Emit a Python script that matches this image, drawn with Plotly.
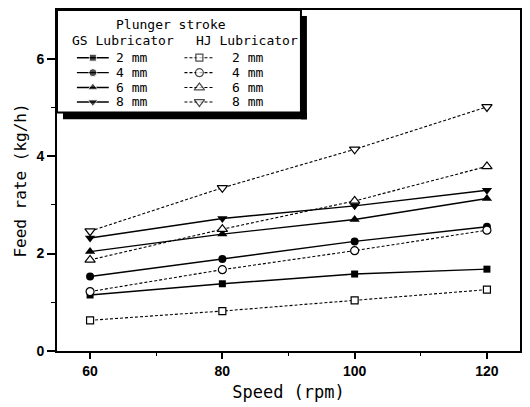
import plotly.graph_objects as go

# Feed rate (kg/h) vs. lubricator speed (rpm) for each plunger stroke
speed = [60, 80, 100, 120]
strokes = ["2 mm", "4 mm", "6 mm", "8 mm"]

gs_2mm = [1.15, 1.38, 1.58, 1.68]
gs_4mm = [1.53, 1.89, 2.25, 2.55]
gs_6mm = [2.04, 2.40, 2.70, 3.13]
gs_8mm = [2.32, 2.72, 2.98, 3.30]

hj_2mm = [0.63, 0.82, 1.04, 1.26]
hj_4mm = [1.22, 1.67, 2.06, 2.48]
hj_6mm = [1.87, 2.50, 3.08, 3.79]
hj_8mm = [2.46, 3.35, 4.14, 5.01]

gs_series = [gs_2mm, gs_4mm, gs_6mm, gs_8mm]
hj_series = [hj_2mm, hj_4mm, hj_6mm, hj_8mm]
symbols = ["square", "circle", "triangle-up", "triangle-down"]
sizes = [7, 8, 9, 9]

W, H = 530, 407
L, R, T, B = 57, 522, 10, 353
MONO = "DejaVu Sans Mono"
DOT = "3px,2px"


def px(x):
    return (x - L) / (R - L)


def py(y):
    return (B - y) / (B - T)


fig = go.Figure()

for vals, sym, sz in zip(gs_series, symbols, sizes):
    fig.add_trace(go.Scatter(
        x=speed, y=vals, mode="lines+markers", showlegend=False,
        line=dict(color="black", width=1.4),
        marker=dict(symbol=sym, size=sz, color="black"),
        cliponaxis=False))

for vals, sym, sz in zip(hj_series, symbols, sizes):
    fig.add_trace(go.Scatter(
        x=speed, y=vals, mode="lines+markers", showlegend=False,
        line=dict(color="black", width=1.1, dash=DOT),
        marker=dict(symbol=sym, size=sz, color="white",
                    line=dict(color="black", width=1.2)),
        cliponaxis=False))

# Hand-built legend block in the upper-left corner
shapes = []
box_l, box_t, box_r, box_b = 57, 10, 302, 113
shapes.append(dict(type="rect", xref="paper", yref="paper",
                   x0=px(box_r), x1=px(box_r + 6), y0=py(box_b + 7), y1=py(box_t + 6),
                   fillcolor="black", line=dict(width=0), layer="below"))
shapes.append(dict(type="rect", xref="paper", yref="paper",
                   x0=px(box_l + 6), x1=px(box_r + 6), y0=py(box_b + 7), y1=py(box_b),
                   fillcolor="black", line=dict(width=0), layer="below"))
shapes.append(dict(type="rect", xref="paper", yref="paper",
                   x0=px(box_l), x1=px(box_r), y0=py(box_b), y1=py(box_t),
                   fillcolor="white", line=dict(color="black", width=2), layer="below"))

annotations = [
    dict(text="Plunger stroke", x=px(171), y=py(25)),
    dict(text="GS Lubricator", x=px(123), y=py(41)),
    dict(text="HJ Lubricator", x=px(248), y=py(41)),
]

row_y = [58, 73, 88, 102.5]
for i, (lab, sym, sz) in enumerate(zip(strokes, symbols, sizes)):
    yy = py(row_y[i])
    fig.add_trace(go.Scatter(
        x=[px(77), px(93), px(109)], y=[yy, yy, yy], xaxis="x2", yaxis="y2",
        mode="lines+markers", showlegend=False, hoverinfo="skip",
        line=dict(color="black", width=1.4),
        marker=dict(symbol=sym, size=[0, sz, 0], color="black")))
    fig.add_trace(go.Scatter(
        x=[px(185), px(200), px(215)], y=[yy, yy, yy], xaxis="x2", yaxis="y2",
        mode="lines+markers", showlegend=False, hoverinfo="skip",
        line=dict(color="black", width=1.1, dash=DOT),
        marker=dict(symbol=sym, size=[0, sz, 0], color="white",
                    line=dict(color="black", width=1.2))))
    annotations.append(dict(text=lab, x=px(114), y=yy, xanchor="left"))
    annotations.append(dict(text=lab, x=px(231), y=yy, xanchor="left"))

for a in annotations:
    a.setdefault("xanchor", "center")
    a.update(xref="paper", yref="paper", yanchor="middle", showarrow=False,
             font=dict(family=MONO, size=13, color="black"))

tick_font = dict(family="Liberation Sans", size=14, color="black", weight="bold")

fig.update_layout(
    width=W, height=H,
    margin=dict(l=L, r=W - R, t=T, b=H - B),
    paper_bgcolor="white", plot_bgcolor="white",
    shapes=shapes, annotations=annotations,
    xaxis=dict(range=[55, 125], tickvals=[60, 80, 100, 120],
               ticks="outside", ticklen=6, tickwidth=1.5, tickcolor="black",
               minor=dict(tickvals=[70, 90, 110], ticks="outside", ticklen=3,
                          tickwidth=1.2, tickcolor="black"),
               showline=True, linecolor="black", linewidth=2, mirror=True,
               showgrid=False, zeroline=False, tickfont=tick_font,
               title=dict(text="Speed (rpm)",
                          font=dict(family=MONO, size=17, color="black"),
                          standoff=8)),
    yaxis=dict(range=[0, 7], tickvals=[0, 2, 4, 6],
               ticks="outside", ticklen=8, tickwidth=1.5, tickcolor="black",
               minor=dict(tickvals=[1, 3, 5], ticks="outside", ticklen=4,
                          tickwidth=1.2, tickcolor="black"),
               showline=True, linecolor="black", linewidth=2, mirror=True,
               showgrid=False, zeroline=False, tickfont=tick_font,
               title=dict(text="Feed rate (kg/h)",
                          font=dict(family=MONO, size=16, color="black"),
                          standoff=6)),
    xaxis2=dict(overlaying="x", range=[0, 1], visible=False, fixedrange=True),
    yaxis2=dict(overlaying="y", range=[0, 1], visible=False, fixedrange=True),
)

fig.write_html("out.html")
